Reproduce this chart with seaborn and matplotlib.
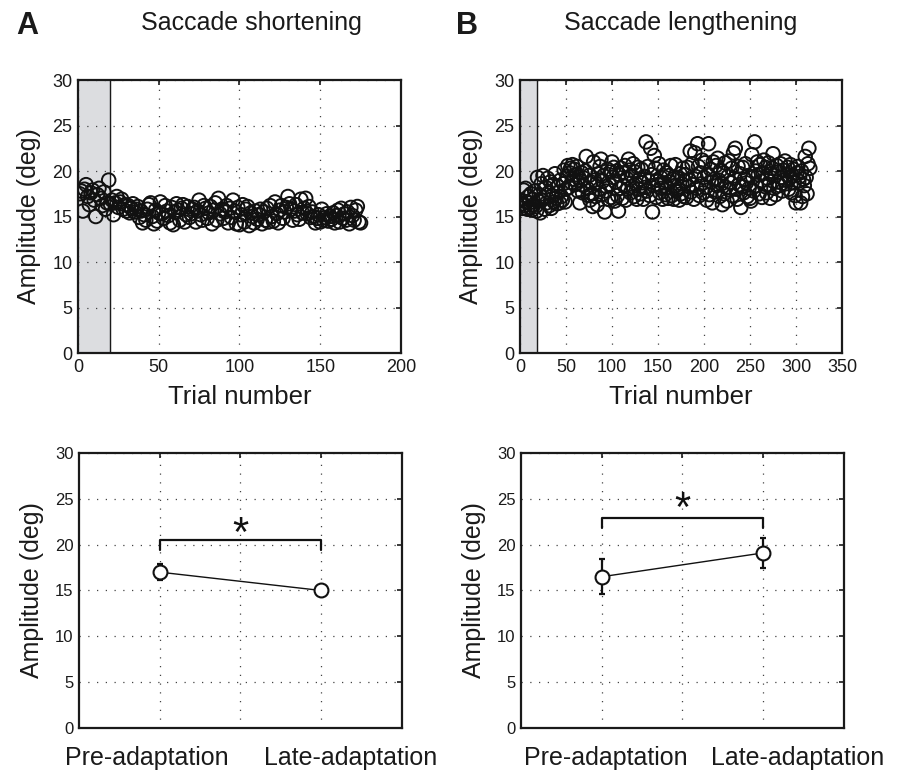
# Saccade adaptation: amplitude per trial and pre vs late adaptation means

import numpy as np
import pandas as pd
import seaborn as sns
import matplotlib.pyplot as plt
import matplotlib.transforms as mtrans

# amplitude per trial, shortening session (deg)
amp_short = [
    17.5, 17.8, 15.6, 18.0, 18.5, 17.2, 16.3, 17.6, 17.9, 16.8,
    15.0, 17.4, 18.1, 17.0, 16.2, 17.7, 15.8, 16.5, 19.0, 16.4,
    16.8, 15.2, 16.5, 17.2, 16.0, 16.6, 16.9, 15.8, 16.3, 15.6,
    16.2, 15.4, 15.9, 16.4, 15.5, 15.8, 16.1, 14.9, 15.6, 14.3,
    15.2, 14.6, 15.8, 16.3, 16.5, 15.0, 14.2, 15.7, 14.5, 15.4,
    16.6, 15.3, 14.8, 16.2, 15.6, 15.1, 14.3, 16.0, 14.1, 15.5,
    16.4, 15.7, 14.6, 15.9, 16.3, 14.4, 15.2, 16.1, 14.9, 15.3,
    15.8, 16.0, 14.4, 15.6, 16.8, 15.2, 14.6, 16.2, 15.9, 14.8,
    15.4, 16.1, 14.2, 15.7, 16.5, 14.6, 17.0, 15.3, 15.8, 14.8,
    15.5, 16.2, 14.3, 15.9, 14.9, 16.8, 15.6, 14.2, 16.0, 14.1,
    15.2, 16.3, 14.4, 15.8, 16.1, 14.0, 15.4, 15.0, 14.3, 15.6,
    14.7, 15.2, 15.8, 14.2, 15.5, 14.6, 15.9, 14.4, 16.2, 15.0,
    14.5, 16.6, 15.3, 14.3, 15.7, 16.2, 14.8, 15.5, 16.0, 17.2,
    16.4, 15.8, 14.6, 15.6, 16.3, 15.2, 14.7, 16.9, 15.4, 15.9,
    17.0, 15.3, 16.1, 14.9, 15.5, 15.0, 14.3, 14.8, 15.2, 14.4,
    15.8, 14.6, 14.9, 15.3, 14.5, 15.0, 14.7, 15.4, 14.3, 15.1,
    15.7, 14.4, 15.9, 14.8, 15.3, 14.6, 15.5, 14.2, 16.0, 15.1,
    14.6, 15.7, 16.1, 14.4, 14.3,
]

# amplitude per trial, lengthening session (deg)
amp_long = [
    16.8, 15.9, 16.4, 17.9, 16.2, 18.1, 16.6, 15.8, 17.2, 16.5,
    16.0, 17.5, 15.7, 16.9, 16.3, 17.8, 16.1, 15.6, 19.3, 16.7,
    17.4, 15.4, 18.6, 16.8, 19.5, 17.1, 15.8, 18.2, 16.5, 19.2,
    17.6, 16.2, 18.8, 15.9, 17.3, 18.5, 16.6, 19.7, 17.0, 16.4,
    18.3, 17.7, 16.5, 19.0, 17.2, 16.8, 18.6, 20.1, 16.6, 18.0,
    19.4, 20.6, 18.2, 19.8, 20.3, 18.7, 20.7, 19.1, 20.2, 18.5,
    19.6, 20.5, 17.8, 19.3, 16.5, 18.9, 19.8, 17.6, 18.4, 19.2,
    20.0, 21.6, 18.1, 17.3, 19.5, 16.8, 18.8, 17.5, 16.1, 21.0,
    19.0, 17.2, 18.6, 16.3, 19.7, 18.0, 20.5, 21.3, 17.4, 18.9,
    19.5, 15.5, 17.8, 18.3, 20.2, 16.9, 18.5, 19.9, 17.1, 21.0,
    19.3, 20.4, 16.7, 18.8, 20.0, 17.3, 15.6, 19.6, 18.1, 20.3,
    17.0, 19.8, 18.4, 20.6, 16.8, 19.2, 18.0, 21.3, 20.1, 17.6,
    19.5, 18.3, 20.8, 17.2, 19.9, 18.6, 16.9, 20.4, 18.0, 19.1,
    17.5, 20.2, 18.7, 16.9, 19.4, 18.2, 23.2, 17.8, 20.5, 18.9,
    17.3, 22.5, 19.6, 15.5, 18.4, 21.7, 20.3, 17.1, 19.0, 18.5,
    20.8, 17.6, 19.3, 18.1, 16.9, 20.1, 18.7, 17.4, 19.8, 18.2,
    17.0, 19.5, 18.8, 20.6, 17.3, 19.1, 16.9, 18.4, 20.7, 17.8,
    19.2, 18.0, 16.8, 19.7, 17.5, 18.6, 20.3, 17.2, 18.9, 19.6,
    17.1, 20.4, 18.3, 19.0, 22.2, 17.7, 20.8, 18.5, 16.9, 22.0,
    19.4, 18.1, 23.0, 20.5, 17.3, 19.8, 18.6, 21.2, 17.6, 19.3,
    20.9, 18.2, 16.8, 19.6, 23.0, 17.4, 20.2, 18.8, 16.5, 21.0,
    19.1, 17.7, 20.6, 18.4, 21.4, 19.0, 17.2, 20.1, 18.6, 16.3,
    19.8, 17.5, 20.9, 18.2, 16.7, 19.4, 21.1, 17.9, 18.7, 20.3,
    17.3, 22.0, 19.2, 22.5, 18.0, 16.9, 20.5, 18.5, 19.7, 16.0,
    18.3, 20.4, 17.6, 19.1, 20.8, 18.7, 17.2, 19.5, 18.1, 17.0,
    16.7, 21.8, 19.3, 17.8, 23.2, 20.0, 18.4, 21.0, 19.6, 17.5,
    20.7, 18.9, 17.1, 19.8, 21.2, 18.3, 20.4, 17.6, 19.2, 20.9,
    18.5, 17.0, 19.7, 20.3, 21.9, 18.1, 19.5, 17.4, 20.6, 18.8,
    19.9, 18.4, 20.8, 19.3, 17.8, 20.1, 19.0, 21.1, 18.6, 19.6,
    20.4, 18.0, 19.2, 20.7, 17.6, 19.5, 20.2, 18.7, 17.3, 16.5,
    19.8, 20.5, 18.9, 19.4, 16.5, 20.0, 17.2, 19.1, 18.4, 21.6,
    19.3, 17.5, 20.8, 22.5, 20.3,
]

# baseline (pre-adaptation) trial block end
base_short = 20
base_long = 19

# phase means and errors
phases = ['Pre-adaptation', 'Late-adaptation']
mean_short = [17.0, 15.0]
err_short = [0.9, 0.5]
mean_long = [16.5, 19.1]
err_long = [1.9, 1.6]

sns.set_style('white')
plt.rcParams['font.family'] = ['Liberation Sans', 'DejaVu Sans']

fig = plt.figure(figsize=(9.02, 7.73), dpi=100)
ax1 = fig.add_axes([0.0865, 0.5433, 0.358, 0.3532])
ax2 = fig.add_axes([0.5765, 0.5433, 0.357, 0.3532])
ax3 = fig.add_axes([0.0876, 0.0582, 0.358, 0.3558])
ax4 = fig.add_axes([0.5776, 0.0582, 0.358, 0.3558])


def style_box(ax, tick_size):
    for s in ax.spines.values():
        s.set_visible(True)
        s.set_linewidth(1.6)
        s.set_color('#1a1a1a')
    ax.tick_params(direction='in', length=3.5, width=1.2, top=True, right=True,
                   labelsize=tick_size, colors='#1a1a1a', pad=4)
    ax.grid(True, linestyle=(0, (1, 6)), color='#444444', linewidth=0.9)
    ax.set_axisbelow(True)


# top panels: trial-by-trial amplitudes
for ax, amp, base, xmax in [(ax1, amp_short, base_short, 200),
                            (ax2, amp_long, base_long, 350)]:
    df = pd.DataFrame({'trial': np.arange(1, len(amp) + 1), 'amp': amp})
    ax.axvspan(0, base, color='#dcdde0', zorder=0)
    ax.axvline(base, color='#1a1a1a', linewidth=1.0, zorder=1)
    sns.scatterplot(data=df, x='trial', y='amp', ax=ax, marker='o', s=95,
                    facecolors='none', edgecolor='#111111', linewidth=1.4,
                    zorder=3, legend=False)
    ax.set_xlim(0, xmax)
    ax.set_ylim(0, 30)
    ax.set_xticks(np.arange(0, xmax + 1, 50))
    ax.set_yticks(np.arange(0, 31, 5))
    style_box(ax, 13)
    ax.set_xlabel('Trial number', fontsize=18.5, labelpad=7, color='#1a1a1a')
    ax.set_ylabel('Amplitude (deg)', fontsize=18, labelpad=8, color='#1a1a1a')

# bottom panels: phase means with error bars
bottom = [(ax3, mean_short, err_short, 20.5, 19.4, 21.1, (-13, 29)),
          (ax4, mean_long, err_long, 22.9, 21.8, 23.8, (4, 34))]
for ax, m, e, bar_y, drop_y, star_y, shifts in bottom:
    df = pd.DataFrame({'x': [1, 2], 'amp': m})
    ax.errorbar(df['x'], df['amp'], yerr=e, fmt='none', ecolor='#111111',
                elinewidth=1.6, capsize=2.5, capthick=1.6, zorder=2)
    sns.lineplot(data=df, x='x', y='amp', ax=ax, color='#111111', linewidth=1.0,
                 marker='o', markersize=10, markerfacecolor='white',
                 markeredgecolor='#111111', markeredgewidth=1.5, zorder=3)
    ax.plot([1, 1, 2, 2], [drop_y, bar_y, bar_y, drop_y], color='#111111',
            linewidth=1.6, zorder=3)
    ax.text(1.5, star_y, '*', ha='center', va='center', fontsize=30, color='#111111')
    ax.set_xlim(0.5, 2.5)
    ax.set_ylim(0, 30)
    ax.set_xticks([1, 1.5, 2])
    ax.set_xticklabels([phases[0], '', phases[1]])
    ax.set_yticks(np.arange(0, 31, 5))
    style_box(ax, 12)
    ax.tick_params(axis='x', labelsize=18, pad=13)
    labels = ax.get_xticklabels()
    for lab, dx in zip([labels[0], labels[2]], shifts):
        lab.set_transform(lab.get_transform()
                          + mtrans.ScaledTranslation(dx / 100, 0, fig.dpi_scale_trans))
    ax.set_xlabel('')
    ax.set_ylabel('Amplitude (deg)', fontsize=18, labelpad=8, color='#1a1a1a')

fig.text(0.279, 0.970, 'Saccade shortening', ha='center', va='center', fontsize=18,
         color='#1a1a1a')
fig.text(0.755, 0.970, 'Saccade lengthening', ha='center', va='center', fontsize=18,
         color='#1a1a1a')
fig.text(0.018, 0.967, 'A', ha='left', va='center', fontsize=22, fontweight='bold',
         color='#1a1a1a')
fig.text(0.505, 0.967, 'B', ha='left', va='center', fontsize=22, fontweight='bold',
         color='#1a1a1a')

fig.savefig('out.png', dpi=100)
